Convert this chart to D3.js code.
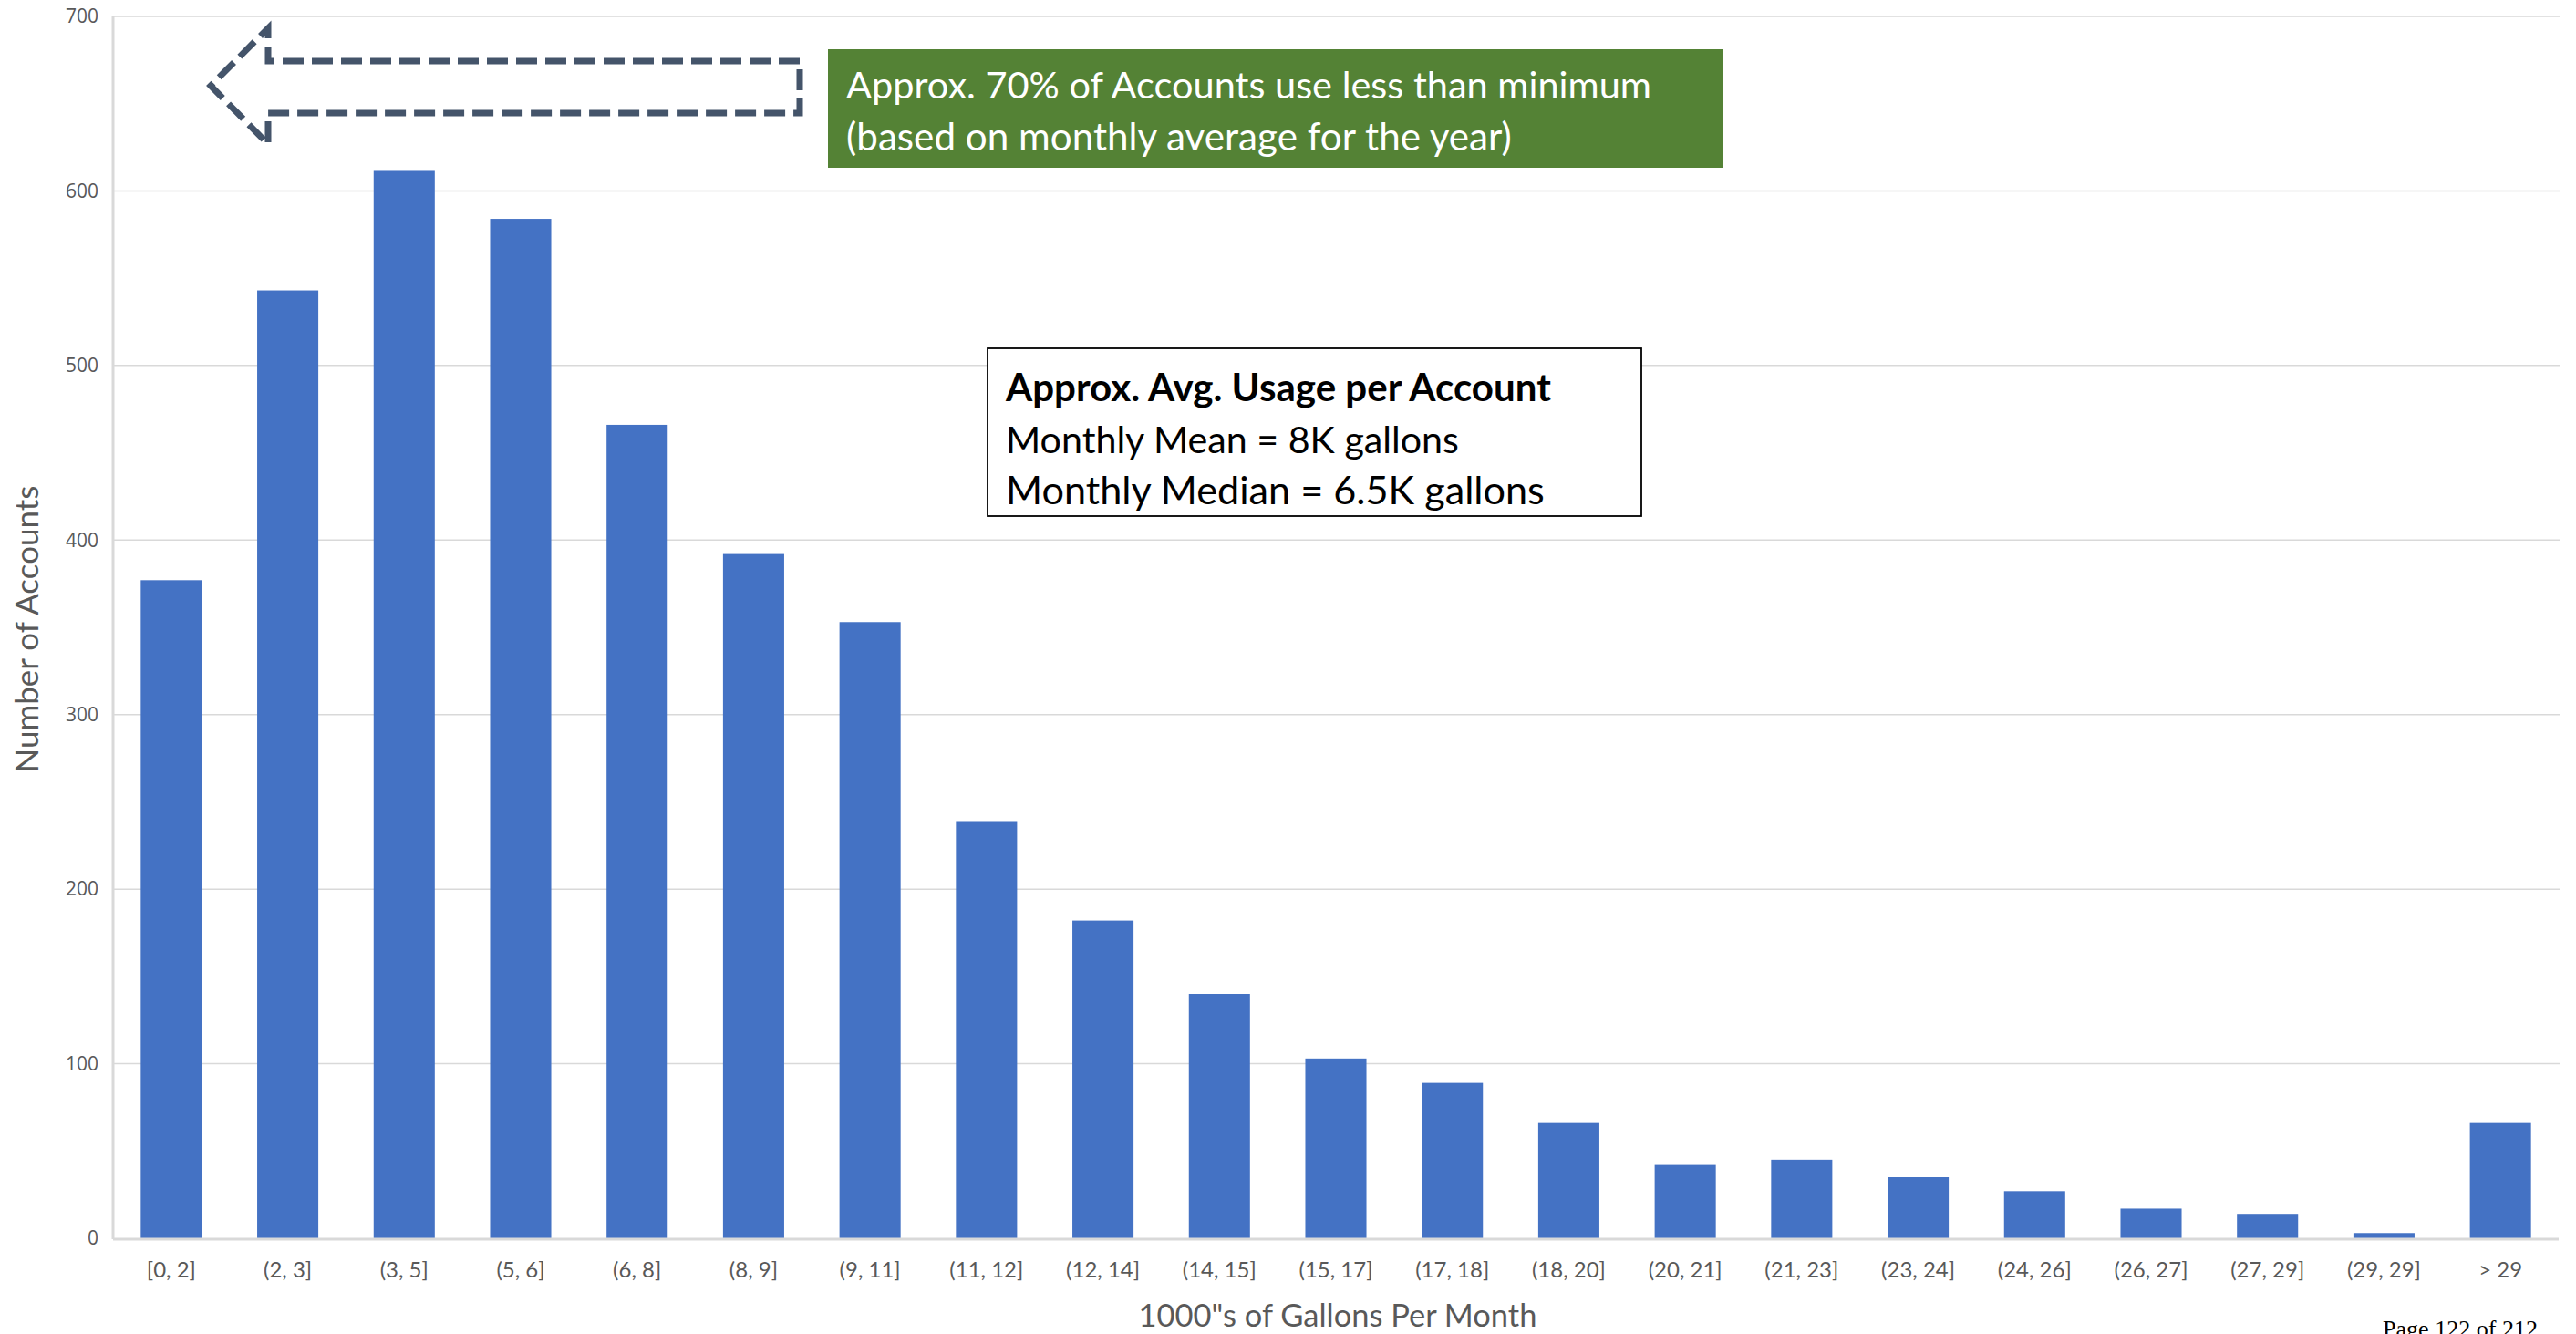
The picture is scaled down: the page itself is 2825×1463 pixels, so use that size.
<!DOCTYPE html>
<html><head><meta charset="utf-8">
<script src="https://cdn.jsdelivr.net/npm/d3@7"></script>
<style>html,body{margin:0;padding:0;background:#fff;overflow:hidden}</style>
</head><body>
<svg id="chart" width="2825" height="1463"></svg>
<script>
const categories = ["[0, 2]","(2, 3]","(3, 5]","(5, 6]","(6, 8]","(8, 9]","(9, 11]","(11, 12]","(12, 14]","(14, 15]","(15, 17]","(17, 18]","(18, 20]","(20, 21]","(21, 23]","(23, 24]","(24, 26]","(26, 27]","(27, 29]","(29, 29]","> 29"];
const accounts = [377,543,612,584,466,392,353,239,182,140,103,89,66,42,45,35,27,17,14,3,66];
const yTicks = [0,100,200,300,400,500,600,700];
const greenNote = ["Approx. 70% of Accounts use less than minimum","(based on monthly average for the year)"];
const boxTitle = "Approx. Avg. Usage per Account";
const boxLines = ["Monthly Mean = 8K gallons","Monthly Median = 6.5K gallons"];
const xTitle = "1000\"s of Gallons Per Month";
const yTitle = "Number of Accounts";
const pageLabel = "Page 122 of 212";

const svg = d3.select("#chart");
const L = 124, R = 2806, T = 18, B = 1358;
const x = d3.scaleBand().domain(categories).range([L, R]).paddingInner(0.475).paddingOuter(0.2375);
const y = d3.scaleLinear().domain([0, 700]).range([B, T]);

function fit(sel, w) {
  const n = sel.node();
  const fs = parseFloat(sel.attr("font-size"));
  const cur = n.getComputedTextLength();
  if (cur > 0) sel.attr("font-size", (fs * w / cur).toFixed(2));
  return sel;
}

// gridlines
svg.append("g").selectAll("line").data(yTicks.filter(d => d > 0)).join("line")
  .attr("x1", L).attr("x2", R + 2).attr("y1", d => y(d)).attr("y2", d => y(d))
  .attr("stroke", "#d9d9d9").attr("stroke-width", 1.5);

// y axis labels
const yAxis = svg.append("g").attr("transform", `translate(${L},0)`)
  .call(d3.axisLeft(y).tickValues(yTicks).tickSize(0).tickPadding(16));
yAxis.select(".domain").remove();
yAxis.selectAll("text").attr("font-family", "'Open Sans', sans-serif").attr("font-size", 21)
  .attr("fill", "#595959");

// bars
svg.append("g").selectAll("rect").data(accounts).join("rect")
  .attr("x", (d, i) => x(categories[i])).attr("width", x.bandwidth())
  .attr("y", d => y(d)).attr("height", d => B - y(d))
  .attr("fill", "#4472C4");

// axis lines
svg.append("line").attr("x1", L).attr("x2", L).attr("y1", T).attr("y2", B + 1)
  .attr("stroke", "#d9d9d9").attr("stroke-width", 3);
svg.append("line").attr("x1", L).attr("x2", R).attr("y1", B + 1).attr("y2", B + 1)
  .attr("stroke", "#d9d9d9").attr("stroke-width", 3);

// x axis labels
const xAxis = svg.append("g").attr("transform", `translate(0,${B})`)
  .call(d3.axisBottom(x).tickSize(0).tickPadding(26));
xAxis.select(".domain").remove();
xAxis.selectAll("text").attr("font-family", "Lato, sans-serif").attr("font-size", 24)
  .attr("fill", "#595959");

// axis titles
fit(svg.append("text").attr("transform", "translate(42,690) rotate(-90)")
  .attr("text-anchor", "middle").attr("font-family", "Lato, sans-serif").attr("font-size", 36)
  .attr("fill", "#595959").text(yTitle), 315);
fit(svg.append("text").attr("x", 1467).attr("y", 1455)
  .attr("text-anchor", "middle").attr("font-family", "Lato, sans-serif").attr("font-size", 34)
  .attr("fill", "#595959").text(xTitle), 437);

// dashed arrow
const arrow = d3.path();
arrow.moveTo(877, 67); arrow.lineTo(294, 67); arrow.lineTo(294, 31);
arrow.lineTo(231, 94); arrow.lineTo(294, 158); arrow.lineTo(294, 124);
arrow.lineTo(877, 124); arrow.closePath();
svg.append("path").attr("d", arrow.toString()).attr("fill", "none")
  .attr("stroke", "#44546A").attr("stroke-width", 7).attr("stroke-dasharray", "23,9");

// green note
svg.append("rect").attr("x", 908).attr("y", 54).attr("width", 982).attr("height", 130)
  .attr("fill", "#548235");
const gw = [883, 730];
greenNote.forEach((t, i) => {
  fit(svg.append("text").attr("x", 928).attr("y", 108 + i * 57)
    .attr("font-family", "Lato, sans-serif").attr("font-size", 42).attr("fill", "#fff").text(t), gw[i]);
});

// stats box
svg.append("rect").attr("x", 1083).attr("y", 382).attr("width", 717).attr("height", 184)
  .attr("fill", "#fff").attr("stroke", "#000").attr("stroke-width", 1.8);
fit(svg.append("text").attr("x", 1103).attr("y", 440).attr("font-family", "Lato, sans-serif")
  .attr("font-weight", "bold").attr("font-size", 40).attr("fill", "#000").text(boxTitle), 598);
const bw = [497, 591];
boxLines.forEach((t, i) => {
  fit(svg.append("text").attr("x", 1103).attr("y", 497 + i * 56).attr("font-family", "Lato, sans-serif")
    .attr("font-size", 40).attr("fill", "#000").text(t), bw[i]);
});

// page label (cut off at the bottom edge, as in the source page)
fit(svg.append("text").attr("x", 2613).attr("y", 1466)
  .attr("font-family", "'Liberation Serif', serif").attr("font-size", 26).attr("fill", "#000").text(pageLabel), 170);
</script>
</body></html>
